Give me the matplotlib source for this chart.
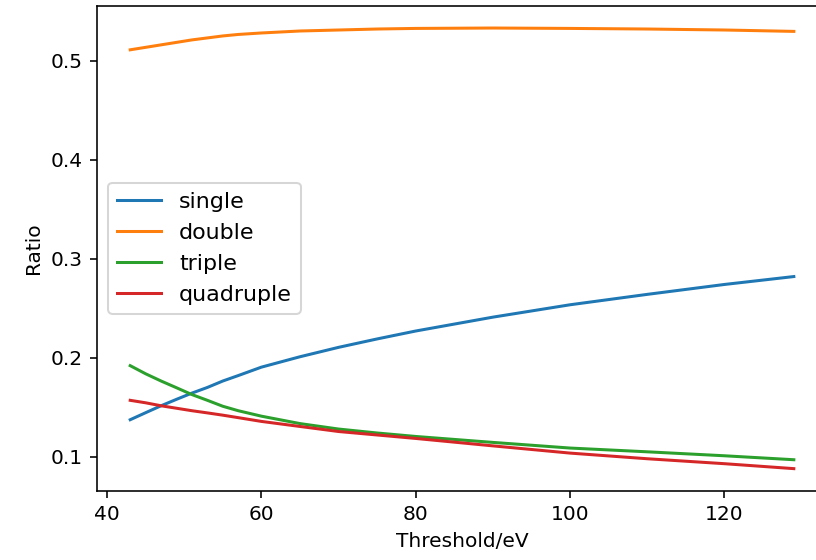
import matplotlib
matplotlib.use("Agg")
import matplotlib.pyplot as plt

# threshold values (eV)
threshold = [43, 45, 47, 49, 51, 53, 55, 57, 60, 65, 70, 75, 80, 90, 100, 110, 120, 129]

single = [0.1374, 0.1445, 0.1515, 0.158, 0.1643, 0.170, 0.1765, 0.182, 0.1905, 0.201,
          0.2105, 0.219, 0.227, 0.241, 0.2535, 0.264, 0.274, 0.282]
double = [0.511, 0.5135, 0.516, 0.5185, 0.521, 0.523, 0.525, 0.5265, 0.528, 0.530,
          0.531, 0.532, 0.5326, 0.533, 0.5326, 0.532, 0.531, 0.5296]
triple = [0.192, 0.1838, 0.1765, 0.1697, 0.1628, 0.157, 0.151, 0.1465, 0.141, 0.1335,
          0.128, 0.124, 0.1205, 0.1145, 0.1088, 0.105, 0.101, 0.097]
quadruple = [0.157, 0.1545, 0.1515, 0.149, 0.1465, 0.1443, 0.142, 0.1395, 0.1357, 0.1306,
             0.1255, 0.122, 0.1185, 0.111, 0.1037, 0.098, 0.093, 0.088]

dpi = 145
fig = plt.figure(figsize=(816 / dpi, 560 / dpi), dpi=dpi)
# the reference is cropped at the right, so the axes runs a little past the figure edge
ax = fig.add_axes([0.1189, 0.1238, 0.8946, 0.8655])

ax.plot(threshold, single, label='single')
ax.plot(threshold, double, label='double')
ax.plot(threshold, triple, label='triple')
ax.plot(threshold, quadruple, label='quadruple')

ax.spines['right'].set_visible(False)
ax.set_xlabel('Threshold/eV')
ax.set_ylabel('Ratio')
ax.legend(loc='center left', fontsize=11)

fig.savefig('out.png', dpi=dpi, facecolor='white')
